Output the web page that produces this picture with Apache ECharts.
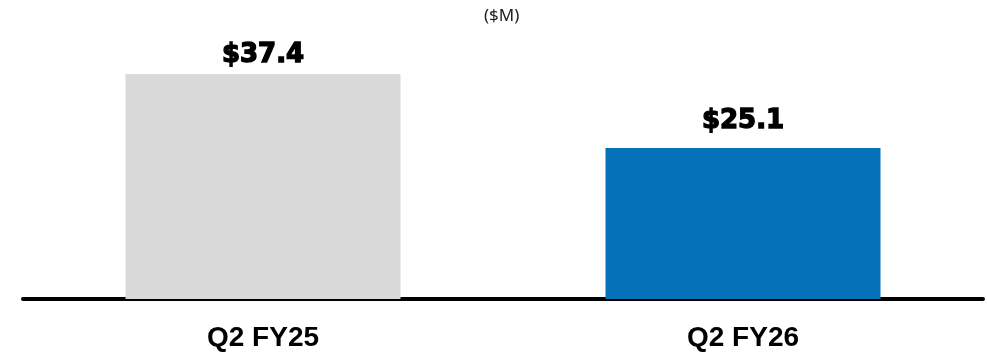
<!DOCTYPE html>
<html>
<head>
    <meta charset="utf-8">
    <script src="https://cdn.jsdelivr.net/npm/echarts@6/dist/echarts.min.js"></script>
    <style>
        html, body { margin: 0; padding: 0; background: #fff; }
        #chart { width: 987px; height: 356px; }
    </style>
</head>
<body>
<div id="chart"></div>
<script type="text/javascript">
    // data
    var categories = ['Q2 FY25', 'Q2 FY26'];
    var values = [37.4, 25.1];
    var barColors = ['#d9d9d9', '#0571b9'];
    var labelGaps = [6, 14];   // label distance above each bar
    var unitText = '($M)';

    var myChart = echarts.init(document.getElementById('chart'));

    var option = {
        backgroundColor: '#fff',
        animation: false,
        title: {
            text: unitText,
            left: 479,
            top: 3,
            textStyle: {
                fontFamily: 'Noto Sans',
                fontSize: 17,
                fontWeight: 'normal',
                color: '#222'
            }
        },
        grid: {
            left: 23,
            right: 4,
            top: 58.4,
            bottom: 57
        },
        xAxis: {
            type: 'category',
            data: categories,
            axisLine: { show: true, lineStyle: { color: '#000', width: 4 } },
            axisTick: { show: false },
            axisLabel: {
                margin: 25,
                fontFamily: 'Liberation Sans',
                fontSize: 28,
                fontWeight: 'bold',
                color: '#000'
            }
        },
        yAxis: {
            type: 'value',
            min: 0,
            max: 40,
            show: false,
            splitLine: { show: false }
        },
        series: [{
            type: 'bar',
            barWidth: 275,
            z: 1,
            data: values.map(function (v, i) {
                return {
                    value: v,
                    itemStyle: { color: barColors[i] },
                    label: { distance: labelGaps[i] }
                };
            }),
            label: {
                show: true,
                position: 'top',
                formatter: function (p) { return '$' + p.value.toFixed(1); },
                fontFamily: 'DejaVu Sans',
                fontSize: 26,
                fontWeight: 'bold',
                color: '#000',
                textBorderColor: '#000',
                textBorderWidth: 1.4
            }
        }]
    };
    myChart.setOption(option);
</script>
</body>
</html>
